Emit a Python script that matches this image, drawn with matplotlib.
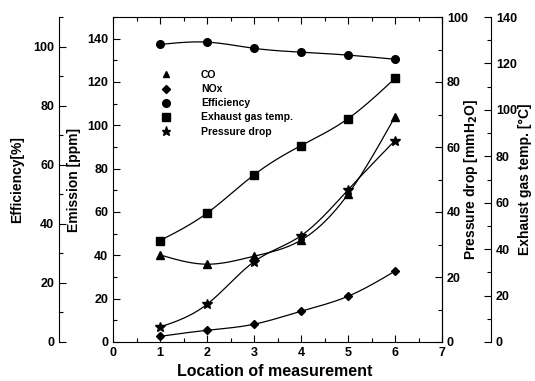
import numpy as np
import matplotlib
matplotlib.use("Agg")
import matplotlib.pyplot as plt
from matplotlib.lines import Line2D
from matplotlib.ticker import MultipleLocator

plt.rcParams['font.family'] = ['Liberation Sans', 'DejaVu Sans']
plt.rcParams['font.weight'] = 'bold'

# data
location = [1, 2, 3, 4, 5, 6]
co = [40.2, 35.9, 39.6, 47.0, 68.2, 104.0]            # ppm
nox = [2.6, 5.4, 8.2, 14.2, 21.1, 32.7]              # ppm
efficiency = [100.7, 101.5, 99.4, 98.1, 97.1, 95.7]  # %
exhaust_temp = [43.7, 55.5, 72.0, 84.6, 96.2, 113.6] # C
pressure_drop = [4.6, 11.6, 24.7, 32.7, 46.8, 62.0]  # mmH2O


def spline(x, y, n=200):
    # natural cubic spline, just for drawing the smooth curve
    x = np.asarray(x, float)
    y = np.asarray(y, float)
    k = len(x)
    h = np.diff(x)
    A = np.zeros((k, k))
    b = np.zeros(k)
    A[0, 0] = A[-1, -1] = 1
    for i in range(1, k - 1):
        A[i, i - 1] = h[i - 1]
        A[i, i] = 2 * (h[i - 1] + h[i])
        A[i, i + 1] = h[i]
        b[i] = 6 * ((y[i + 1] - y[i]) / h[i] - (y[i] - y[i - 1]) / h[i - 1])
    m = np.linalg.solve(A, b)
    xs = np.linspace(x[0], x[-1], n)
    idx = np.clip(np.searchsorted(x, xs) - 1, 0, k - 2)
    x0, x1 = x[idx], x[idx + 1]
    hh = x1 - x0
    t0, t1 = x1 - xs, xs - x0
    ys = (m[idx] * t0**3 + m[idx + 1] * t1**3) / (6 * hh) \
        + (y[idx] / hh - m[idx] * hh / 6) * t0 \
        + (y[idx + 1] / hh - m[idx + 1] * hh / 6) * t1
    return xs, ys


fig = plt.figure(figsize=(5.35, 3.81), dpi=100)
ax = fig.add_axes([113 / 535, 1 - 342 / 381, 329 / 535, 325 / 381])

ax_eff = ax.twinx()
ax_pd = ax.twinx()
ax_ex = ax.twinx()

for a in (ax_eff, ax_pd, ax_ex):
    for s in a.spines.values():
        s.set_visible(False)

# efficiency axis on the far left
ax_eff.spines['left'].set_visible(True)
ax_eff.spines['left'].set_position(('axes', -0.164))
ax_eff.yaxis.set_ticks_position('left')
ax_eff.yaxis.set_label_position('left')

# pressure drop on the frame's right side
ax_pd.spines['right'].set_visible(True)

# exhaust temp on the far right
ax_ex.spines['right'].set_visible(True)
ax_ex.spines['right'].set_position(('axes', 1.149))
ax_ex.spines['right'].set_linewidth(0.8)

ax.set_xlim(0, 7)
ax.set_ylim(0, 150)
ax_eff.set_ylim(0, 110)
ax_pd.set_ylim(0, 100)
ax_ex.set_ylim(0, 140)

ax.xaxis.set_major_locator(MultipleLocator(1))
ax.xaxis.set_minor_locator(MultipleLocator(0.5))
ax.set_yticks(range(0, 141, 20))
ax.yaxis.set_minor_locator(MultipleLocator(10))
ax_eff.set_yticks(range(0, 101, 20))
ax_eff.yaxis.set_minor_locator(MultipleLocator(10))
ax_pd.set_yticks(range(0, 101, 20))
ax_pd.yaxis.set_minor_locator(MultipleLocator(10))
ax_ex.set_yticks(range(0, 141, 20))
ax_ex.yaxis.set_minor_locator(MultipleLocator(10))

ax.tick_params(axis='x', which='both', direction='in', top=True, labelsize=9)
ax.tick_params(axis='y', which='both', direction='in', right=False, labelsize=9)
for a in (ax_eff, ax_pd, ax_ex):
    a.tick_params(axis='y', which='both', direction='in', labelsize=9)
for a in (ax, ax_eff, ax_pd, ax_ex):
    a.tick_params(which='major', length=5, width=0.8)
    a.tick_params(which='minor', length=3, width=0.8)

ax.set_xlabel('Location of measurement', fontsize=11.5, fontweight='bold')
ax.xaxis.set_label_coords(0.49, -0.068)
ax.set_ylabel('Emission [ppm]', fontsize=10, fontweight='bold')
ax.yaxis.set_label_coords(-0.097, 0.5)
ax_eff.set_ylabel('Efficiency[%]', fontsize=10, fontweight='bold')
ax_eff.yaxis.set_label_coords(-0.271, 0.5)
ax_pd.set_ylabel('Pressure drop [mmH$_2$O]', fontsize=10, fontweight='bold')
ax_pd.yaxis.set_label_coords(1.061, 0.5)
ax_ex.set_ylabel('Exhaust gas temp. [°C]', fontsize=10, fontweight='bold')
ax_ex.yaxis.set_label_coords(1.231, 0.5)

lw = 0.9
ax.plot(*spline(location, co), color='black', lw=lw)
ax.plot(location, co, '^', color='black', ms=5.5, ls='none')
ax.plot(*spline(location, nox), color='black', lw=lw)
ax.plot(location, nox, 'D', color='black', ms=4.5, ls='none')
ax_eff.plot(*spline(location, efficiency), color='black', lw=lw)
ax_eff.plot(location, efficiency, 'o', color='black', ms=5.5, ls='none')
ax_ex.plot(*spline(location, exhaust_temp), color='black', lw=lw)
ax_ex.plot(location, exhaust_temp, 's', color='black', ms=5.5, ls='none')
ax_pd.plot(*spline(location, pressure_drop), color='black', lw=lw)
ax_pd.plot(location, pressure_drop, '*', color='black', ms=7.5, ls='none')

handles = [
    Line2D([], [], marker='^', color='black', ls='none', ms=5),
    Line2D([], [], marker='D', color='black', ls='none', ms=4),
    Line2D([], [], marker='o', color='black', ls='none', ms=5.5),
    Line2D([], [], marker='s', color='black', ls='none', ms=5.5),
    Line2D([], [], marker='*', color='black', ls='none', ms=6.5),
]
labels = ['CO', 'NOx', 'Efficiency', 'Exhaust gas temp.', 'Pressure drop']
ax_ex.legend(handles, labels, loc='upper left', bbox_to_anchor=(0.128, 0.853),
             frameon=False, borderpad=0, handlelength=1.0, handletextpad=2.9,
             labelspacing=0.4, prop={'size': 7.5, 'weight': 'bold'})

fig.savefig('out.png', dpi=100)
